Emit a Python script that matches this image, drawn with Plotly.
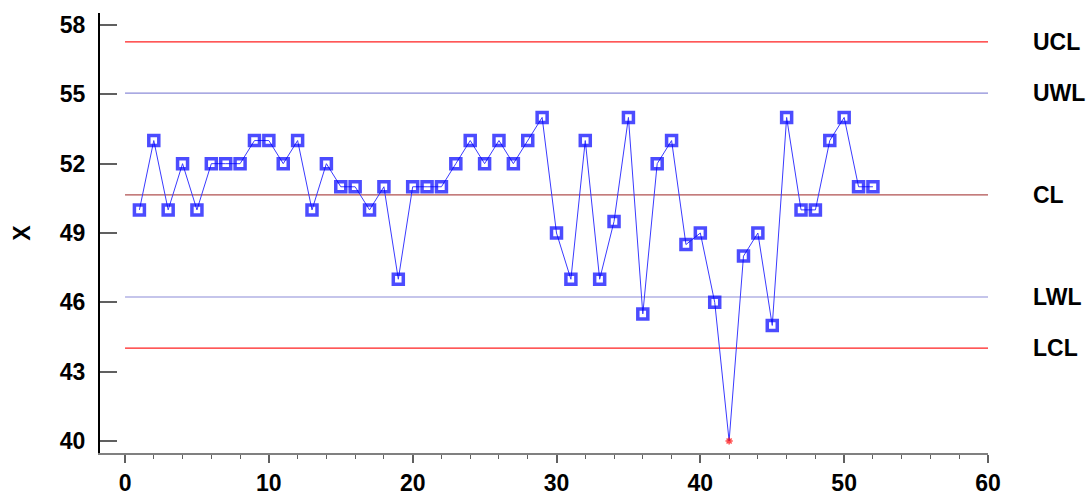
import plotly.graph_objects as go

samples = list(range(1, 53))
values = [50, 53, 50, 52, 50, 52, 52, 52, 53, 53,
          52, 53, 50, 52, 51, 51, 50, 51, 47, 51,
          51, 51, 52, 53, 52, 53, 52, 53, 54, 49,
          47, 53, 47, 49.5, 54, 45.5, 52, 53, 48.5, 49,
          46, 40, 48, 49, 45, 54, 50, 50, 53, 54,
          51, 51]

limit_names = ["UCL", "UWL", "CL", "LWL", "LCL"]
limit_values = [57.27, 55.05, 50.65, 46.23, 44.02]
limit_colors = ["#FF2020", "#8C8CD8", "#B05050", "#8C8CD8", "#FF2020"]

y_ticks = [40, 43, 46, 49, 52, 55, 58]
x_ticks = [0, 10, 20, 30, 40, 50, 60]

FONT = "Liberation Sans, Arial, sans-serif"
FS = 23

fig = go.Figure()

for name, val, col in zip(limit_names, limit_values, limit_colors):
    fig.add_trace(go.Scatter(x=[0, 60], y=[val, val], mode="lines",
                             line=dict(color=col, width=1.2),
                             hoverinfo="skip", showlegend=False))
    fig.add_annotation(x=1.048, xref="paper", y=val, yref="y", text="<b>%s</b>" % name,
                       showarrow=False, xanchor="left", yanchor="middle",
                       font=dict(family=FONT, size=FS, color="#000"))

lcl = limit_values[4]
ucl = limit_values[0]
out = [(v < lcl or v > ucl) for v in values]
symbols = ["asterisk-open" if o else "square-open" for o in out]
colors = ["#FF0000" if o else "#0000FF" for o in out]
sizes = [6 if o else 10 for o in out]
widths = [1.5 if o else 3.5 for o in out]

fig.add_trace(go.Scatter(x=samples, y=values, mode="lines+markers",
                         line=dict(color="#3A3AFF", width=1),
                         marker=dict(symbol=symbols, size=sizes, color=colors,
                                     line=dict(color=colors, width=widths)),
                         showlegend=False))

fig.update_layout(
    width=1090, height=496,
    margin=dict(l=100, r=102, t=13, b=43),
    plot_bgcolor="white", paper_bgcolor="white",
    font=dict(family=FONT, size=FS, color="#000"),
)
fig.update_xaxes(range=[-1.74, 60], tickvals=x_ticks,
                 ticktext=["<b>%d</b>" % t for t in x_ticks],
                 showgrid=False, zeroline=False, automargin=False,
                 showline=True, linecolor="#808080", linewidth=2,
                 ticks="outside", ticklen=8, tickwidth=1.5, tickcolor="#606060",
                 minor=dict(dtick=2, tick0=0, ticks="outside", ticklen=4, tickcolor="#606060", tickwidth=1),
                 ticklabelstandoff=0,
                 tickfont=dict(family=FONT, size=FS, color="#000"))
fig.update_yaxes(range=[39.48, 58.52], tickvals=y_ticks,
                 ticktext=["<b>%d</b>" % t for t in y_ticks],
                 showgrid=False, zeroline=False, automargin=False,
                 showline=True, linecolor="#000", linewidth=2,
                 ticks="inside", ticklen=17, tickwidth=1.5, tickcolor="#606060",
                 ticklabelstandoff=8,
                 tickfont=dict(family=FONT, size=FS, color="#000"),
                 title=dict(text="<b>X</b>", font=dict(family=FONT, size=FS, color="#000"), standoff=23))

fig.write_html("out.html")
